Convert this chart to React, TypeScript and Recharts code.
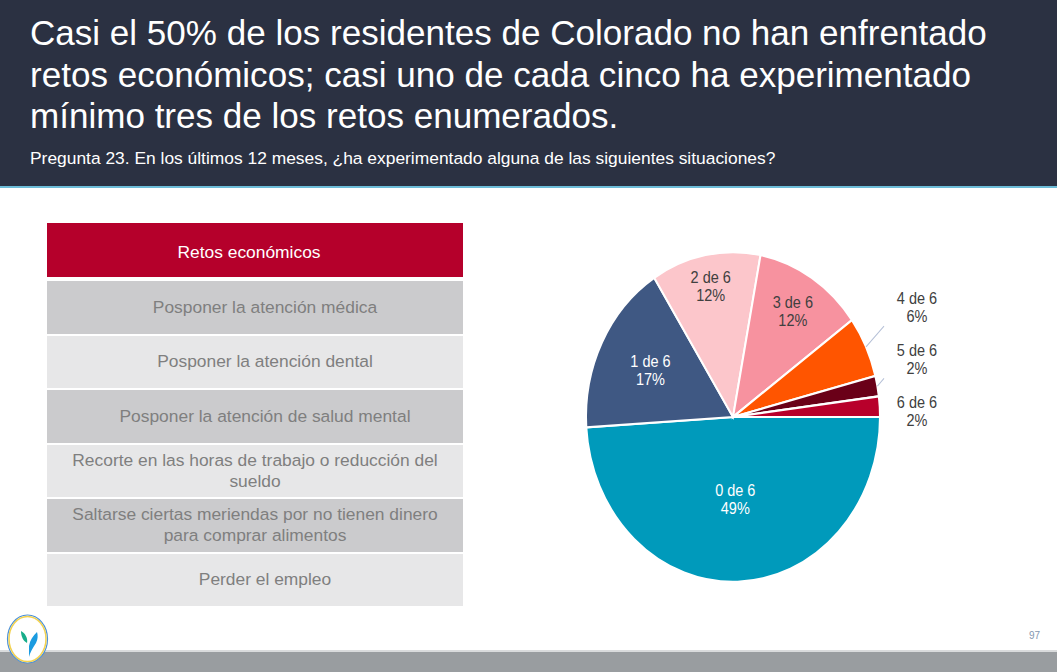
import { PieChart, Pie, Cell } from 'recharts';

const SLICE_NAMES = ['0 de 6', '1 de 6', '2 de 6', '3 de 6', '4 de 6', '5 de 6', '6 de 6'];
const SLICE_VALUES = [49, 17, 12, 12, 6, 2, 2];
const SLICE_COLORS = ['#009ABB', '#3F5883', '#FCC6CB', '#F7929F', '#FF5500', '#6A0018', '#B8002B'];

const TABLE_HEADER = 'Retos económicos';
const TABLE_ROWS = [
  'Posponer la atención médica',
  'Posponer la atención dental',
  'Posponer la atención de salud mental',
  'Recorte en las horas de trabajo o reducción del sueldo',
  'Saltarse ciertas meriendas por no tienen dinero para comprar alimentos',
  'Perder el empleo',
];

const TITLE_LINES = [
  'Casi el 50% de los residentes de Colorado no han enfrentado',
  'retos económicos; casi uno de cada cinco ha experimentado',
  'mínimo tres de los retos enumerados.',
];
const SUBTITLE = 'Pregunta 23. En los últimos 12 meses, ¿ha experimentado alguna de las siguientes situaciones?';
const PAGE_NUMBER = '97';

const FONT = '"Liberation Sans", Arial, sans-serif';
const RADIAN = Math.PI / 180;
// label distance from centre, as a share of the radius (inside labels only)
const LABEL_RADIUS = [0.5, 0.63, 0.81, 0.76];
const DARK_SLICES = [0, 1];

const chartData = SLICE_NAMES.map((name, i) => ({ name, value: SLICE_VALUES[i] }));

function renderLabel(props: any) {
  const { cx, cy, midAngle, outerRadius, index, name, value } = props;
  const pct = `${value}%`;
  if (index < LABEL_RADIUS.length) {
    const r = outerRadius * LABEL_RADIUS[index];
    const x = cx + r * Math.cos(-midAngle * RADIAN);
    const y = cy + r * Math.sin(-midAngle * RADIAN);
    const fill = DARK_SLICES.includes(index) ? '#FFFFFF' : '#404040';
    return (
      <text x={x} y={y} fill={fill} fontSize={14.5} fontFamily={FONT} textAnchor="middle">
        <tspan x={x} y={y - 8} dominantBaseline="central">{name}</tspan>
        <tspan x={x} y={y + 8} dominantBaseline="central">{pct}</tspan>
      </text>
    );
  }
  // outside labels stacked in a column right of the pie
  const k = SLICE_NAMES.length - 1 - index;
  const lx = cx + outerRadius + 37;
  const ly = cy - 5 - 46.5 * k;
  const ex = cx + outerRadius * Math.cos(-midAngle * RADIAN);
  const ey = cy + outerRadius * Math.sin(-midAngle * RADIAN);
  const tx = cx + outerRadius + 4;
  const ty = ly + 17;
  return (
    <g>
      {ey > ty + 3 && <line x1={ex} y1={ey} x2={tx} y2={ty} stroke="#B4BFD6" strokeWidth={1} />}
      <text x={lx} y={ly} fill="#404040" fontSize={14.5} fontFamily={FONT} textAnchor="middle">
        <tspan x={lx} y={ly - 8} dominantBaseline="central">{name}</tspan>
        <tspan x={lx} y={ly + 8} dominantBaseline="central">{pct}</tspan>
      </text>
    </g>
  );
}

function Logo() {
  return (
    <svg width={48} height={54} style={{ position: 'absolute', left: 4, top: 612 }}>
      <ellipse cx={23.5} cy={27} rx={20} ry={24} fill="#fff" stroke="#4A90D9" strokeWidth={1.2} />
      <ellipse cx={23.5} cy={27} rx={18.5} ry={22.5} fill="none" stroke="#F3D250" strokeWidth={1.5} />
      <path d="M17 19 C21 21 24 26 23 31 C19 29 17 24 17 19 Z" fill="#17AD8A" />
      <path d="M33 20 C29 24 26 28 25 34 L25 45 C26 40 29 36 32 31 C34 27 34 23 33 20 Z" fill="#1B9BE0" />
    </svg>
  );
}

function EconomicTable() {
  return (
    <div style={{ position: 'absolute', left: 47, top: 223, width: 416, fontFamily: FONT }}>
      <div
        style={{
          height: 54,
          background: '#B5002B',
          color: '#fff',
          fontSize: 17.4,
          display: 'flex',
          alignItems: 'center',
          justifyContent: 'center',
          boxSizing: 'border-box',
          padding: '5px 12px 0 0',
          marginBottom: 4,
        }}
      >
        {TABLE_HEADER}
      </div>
      {TABLE_ROWS.map((row, i) => {
        const wrapped = row.length > 40;
        return (
          <div
            key={row}
            style={{
              height: 52.5,
              marginBottom: 2,
              background: i % 2 === 0 ? '#CBCBCD' : '#E7E7E8',
              color: '#7F7F7F',
              fontSize: 17.4,
              lineHeight: '21px',
              display: 'flex',
              alignItems: 'center',
              justifyContent: 'center',
              textAlign: 'center',
              boxSizing: 'border-box',
              padding: wrapped ? '0 6px' : '0 4px 0 24px',
            }}
          >
            {row}
          </div>
        );
      })}
    </div>
  );
}

export default function App() {
  return (
    <div
      style={{
        position: 'fixed',
        left: 0,
        top: 0,
        width: 1057,
        height: 672,
        background: '#fff',
        overflow: 'hidden',
        fontFamily: FONT,
      }}
    >
      <div style={{ position: 'absolute', left: 0, top: 0, width: 1057, height: 186, background: '#2B3142' }} />
      <div style={{ position: 'absolute', left: 0, top: 186, width: 1057, height: 2, background: '#6CBCD8' }} />
      <div
        style={{
          position: 'absolute',
          left: 30,
          top: 12,
          color: '#fff',
          fontSize: 35.05,
          lineHeight: '41.5px',
          whiteSpace: 'nowrap',
        }}
      >
        {TITLE_LINES.map((l) => (
          <div key={l}>{l}</div>
        ))}
      </div>
      <div
        style={{
          position: 'absolute',
          left: 30,
          top: 147.5,
          color: '#fff',
          fontSize: 17.4,
          lineHeight: 'normal',
          whiteSpace: 'nowrap',
        }}
      >
        {SUBTITLE}
      </div>

      <EconomicTable />

      <div
        style={{
          position: 'absolute',
          left: 533,
          top: 247,
          width: 480,
          height: 340,
          transform: 'scale(1, 1.122)',
          transformOrigin: '200px 170px',
        }}
      >
        <PieChart width={480} height={340} margin={{ top: 0, right: 0, bottom: 0, left: 0 }}>
          <Pie
            data={chartData}
            dataKey="value"
            nameKey="name"
            cx={200}
            cy={170}
            outerRadius={147}
            startAngle={0}
            endAngle={-360}
            stroke="#FFFFFF"
            strokeWidth={2}
            label={renderLabel}
            labelLine={false}
            isAnimationActive={false}
          >
            {chartData.map((d, i) => (
              <Cell key={d.name} fill={SLICE_COLORS[i]} />
            ))}
          </Pie>
        </PieChart>
      </div>

      <div style={{ position: 'absolute', left: 0, top: 650, width: 1057, height: 2, background: '#D9DBDC' }} />
      <div style={{ position: 'absolute', left: 0, top: 652, width: 1057, height: 20, background: '#999DA0' }} />
      <Logo />
      <div
        style={{
          position: 'absolute',
          left: 1029,
          top: 630,
          fontSize: 10,
          color: '#8497B0',
          fontFamily: FONT,
        }}
      >
        {PAGE_NUMBER}
      </div>
    </div>
  );
}
